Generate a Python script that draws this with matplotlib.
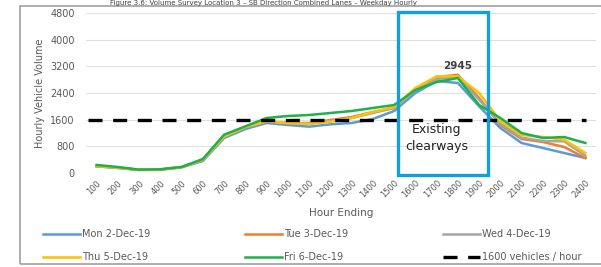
import matplotlib
matplotlib.use("Agg")
import matplotlib.pyplot as plt
from matplotlib.patches import Rectangle
import numpy as np

hours = ["100", "200", "300", "400", "500", "600", "700", "800", "900", "1000", "1100", "1200",
         "1300", "1400", "1500", "1600", "1700", "1800", "1900", "2000", "2100", "2200", "2300", "2400"]

mon = [200, 150, 90, 100, 170, 360, 1050, 1320, 1500, 1440, 1390, 1460, 1500, 1620, 1860, 2400, 2760, 2700, 2000, 1350, 900, 750, 600, 450]
tue = [210, 160, 100, 110, 180, 400, 1100, 1380, 1550, 1500, 1500, 1590, 1680, 1830, 1950, 2520, 2880, 2945, 2250, 1440, 1020, 930, 780, 450]
wed = [205, 155, 95, 105, 175, 390, 1090, 1370, 1540, 1490, 1480, 1560, 1650, 1800, 1950, 2480, 2820, 2880, 2200, 1480, 1060, 960, 950, 520]
thu = [210, 160, 95, 105, 175, 400, 1100, 1380, 1550, 1500, 1470, 1540, 1650, 1830, 1980, 2550, 2900, 2900, 2400, 1560, 1140, 1080, 1000, 600]
fri = [240, 180, 100, 110, 180, 420, 1150, 1400, 1650, 1710, 1740, 1800, 1860, 1950, 2040, 2490, 2730, 2850, 2040, 1650, 1200, 1050, 1080, 900]
threshold = 1600

series = [("Mon 2-Dec-19", mon, "#5B9BD5"),
          ("Tue 3-Dec-19", tue, "#ED7D31"),
          ("Wed 4-Dec-19", wed, "#A5A5A5"),
          ("Thu 5-Dec-19", thu, "#FFC000"),
          ("Fri 6-Dec-19", fri, "#1DB14B")]

fig = plt.figure(figsize=(6.01, 2.67), dpi=100)
ax = fig.add_axes([86/601, (267-173)/267, 510/601, 160/267])

x = np.arange(len(hours))
handles = []
for name, vals, col in series:
    h, = ax.plot(x, vals, color=col, lw=1.8, label=name, solid_joinstyle="round")
    handles.append(h)
hd, = ax.plot([-0.4, 23.05], [threshold, threshold], color="black", lw=2.4,
              dashes=(4.2, 3.2), label="1600 vehicles / hour")
handles.append(hd)

ax.set_xlim(-0.5, 23.5)
ax.set_ylim(0, 4800)
ax.set_yticks(np.arange(0, 4801, 800))
ax.set_xticks(x)
ax.set_xticklabels(hours, rotation=45, ha="right", rotation_mode="anchor", fontsize=6, color="#595959")
ax.tick_params(axis="y", labelsize=7, colors="#595959", length=0, pad=8)
ax.tick_params(axis="x", length=0, pad=4)
ax.grid(axis="y", color="#E0E0E0", lw=0.8)
ax.set_axisbelow(True)
for s in ax.spines.values():
    s.set_visible(False)

ax.set_ylabel("Hourly Vehicle Volume", fontsize=7, color="#595959", labelpad=4)
ax.set_xlabel("Hour Ending", fontsize=7.5, color="#595959", labelpad=6)

# clearway box
ax.add_patch(Rectangle((14.17, -60), 4.25, 4890, fill=False, edgecolor="#12A0D7",
                       lw=2.4, clip_on=False, zorder=5))
ax.text(16.0, 1050, "Existing\nclearways", ha="center", va="center", fontsize=9,
        color="#222222", linespacing=1.35)
ax.text(17, 3220, "2945", ha="center", va="center", fontsize=7.5, color="#404040", fontweight="bold")

# outer chart frame
fig.patches.append(Rectangle((20/601, 3/267), 600/601, 258/267, transform=fig.transFigure,
                             fill=False, edgecolor="#A0A0A0", lw=1.2))
fig.text(110/601, 1.0, "Figure 3.6: Volume Survey Location 3 \u2013 SB Direction Combined Lanes \u2013 Weekday Hourly",
         fontsize=5, color="#404040", va="top", ha="left")

order = [0, 3, 1, 4, 2, 5]
hs = [handles[i] for i in order]
leg = fig.legend(handles=hs, labels=[h.get_label() for h in hs], loc="lower left",
                 bbox_to_anchor=(38/601, 0.0, 548/601, 52/267),
                 ncol=3, mode="expand", frameon=False, fontsize=7, handlelength=3.8,
                 handletextpad=0.2, labelspacing=1.35, columnspacing=1.0, borderaxespad=0.1)
for t in leg.get_texts():
    t.set_color("#595959")
fig.savefig("out.png", dpi=100)
